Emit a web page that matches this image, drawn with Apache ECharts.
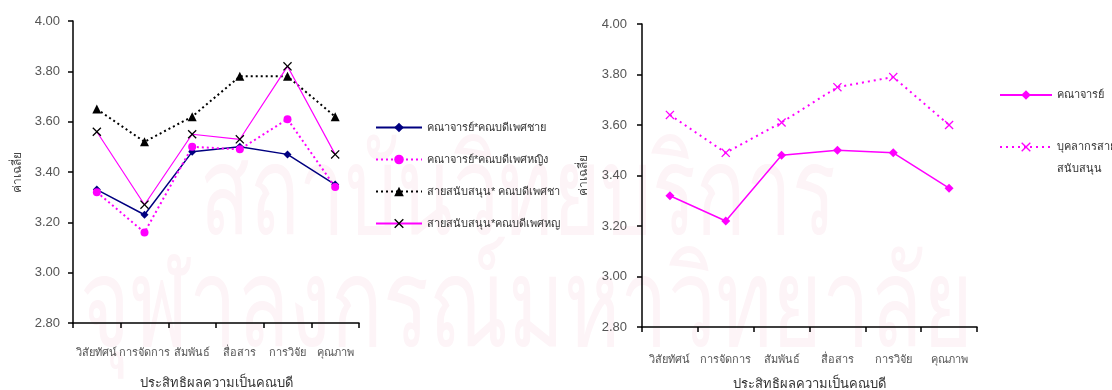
<!DOCTYPE html>
<html>
<head>
<meta charset="utf-8">
<script src="https://cdn.jsdelivr.net/npm/echarts@6/dist/echarts.min.js"></script>
<style>
  html, body { margin: 0; padding: 0; background: #fff; }
  #chart { width: 1112px; height: 390px; }
</style>
</head>
<body>
<div id="chart"></div>
<script>
// Categories (dimensions of dean effectiveness)
const categories = ['วิสัยทัศน์', 'การจัดการ', 'สัมพันธ์', 'สื่อสาร', 'การวิจัย', 'คุณภาพ'];
const yTicks = [2.8, 3.0, 3.2, 3.4, 3.6, 3.8, 4.0];

// Left chart: staff group x dean gender
const facultyMaleDean   = [3.33, 3.23, 3.48, 3.50, 3.47, 3.35];
const facultyFemaleDean = [3.32, 3.16, 3.50, 3.49, 3.61, 3.34];
const supportMaleDean   = [3.65, 3.52, 3.62, 3.78, 3.78, 3.62];
const supportFemaleDean = [3.56, 3.27, 3.55, 3.53, 3.82, 3.47];

// Right chart: staff group only
const facultyAll = [3.32, 3.22, 3.48, 3.50, 3.49, 3.35];
const supportAll = [3.64, 3.49, 3.61, 3.75, 3.79, 3.60];

// Series names and the legend text shown for them (legend box clips long names)
const names = {
  fm: 'คณาจารย์*คณบดีเพศชาย',
  ff: 'คณาจารย์*คณบดีเพศหญิง',
  sm: 'สายสนับสนุน* คณบดีเพศชาย',
  sf: 'สายสนับสนุน*คณบดีเพศหญิง',
  fa: 'คณาจารย์',
  sa: 'บุคลากรสายสนับสนุน'
};
const legendText = {
  [names.sm]: 'สายสนับสนุน* คณบดีเพศชา',
  [names.sf]: 'สายสนับสนุน*คณบดีเพศหญ',
  // leading blank line keeps the icon level with the first text line
  [names.sa]: '\nบุคลากรสาย\nสนับสนุน'
};

const FONT = '"Liberation Sans", Arial, "Noto Sans", sans-serif';
const NAVY = '#000080';
const MAG = '#ff00ff';
const CROSS = 'path://M0,1L1,0L5,4L9,0L10,1L6,5L10,9L9,10L5,6L1,10L0,9L4,5Z';

const chart = echarts.init(document.getElementById('chart'), null, { renderer: 'canvas' });

function yAxis(gridIndex, gap, margin) {
  return {
    gridIndex, type: 'value', min: yTicks[0], max: yTicks[yTicks.length - 1], interval: 0.2,
    name: 'ค่าเฉลี่ย', nameLocation: 'middle', nameGap: gap, nameRotate: 90,
    nameTextStyle: { fontFamily: FONT, fontSize: 12, color: '#444' },
    axisLine: { show: true, lineStyle: { color: '#000', width: 1.5 } },
    axisTick: { show: true, length: 5, lineStyle: { color: '#000', width: 1.5 } },
    axisLabel: { fontFamily: FONT, fontSize: 13, color: '#555', margin,
                 formatter: v => v.toFixed(2) },
    splitLine: { show: false }
  };
}
function xAxis(gridIndex, margin, gap) {
  return {
    gridIndex, type: 'category', data: categories, boundaryGap: true,
    name: 'ประสิทธิผลความเป็นคณบดี', nameLocation: 'middle', nameGap: gap,
    nameTextStyle: { fontFamily: FONT, fontSize: 13, color: '#333' },
    axisLine: { show: true, lineStyle: { color: '#000', width: 1.5 } },
    axisTick: { show: true, alignWithLabel: false, length: 5, lineStyle: { color: '#000', width: 1.5 } },
    axisLabel: { fontFamily: FONT, fontSize: 11, color: '#555', margin, interval: 0 }
  };
}

const legendBase = {
  orient: 'vertical', padding: 0, itemHeight: 12,
  formatter: n => legendText[n] || n
};

const option = {
  animation: false,
  backgroundColor: '#fff',
  graphic: [
    // faint institutional watermark behind the plots
    { type: 'text', x: 200, y: 262, scaleX: 0.85, scaleY: 1.3, z: -10, silent: true,
      style: { text: 'สถาบันวิทยบริการ', x: 0, y: 0, verticalAlign: 'bottom', fontSize: 96,
               fontFamily: FONT, fill: '#fdf4f7' } },
    { type: 'text', x: 80, y: 374, scaleX: 0.89, scaleY: 1.3, z: -10, silent: true,
      style: { text: 'จุฬาลงกรณ์มหาวิทยาลัย', x: 0, y: 0, verticalAlign: 'bottom', fontSize: 96,
               fontFamily: FONT, fill: '#fdf4f7' } }
  ],
  grid: [
    { left: 73, right: 753, top: 21, bottom: 67, containLabel: false, outerBoundsMode: 'none' },
    { left: 642, right: 135, top: 24, bottom: 63, containLabel: false, outerBoundsMode: 'none' }
  ],
  xAxis: [xAxis(0, 24, 54), xAxis(1, 27, 51)],
  yAxis: [yAxis(0, 49, 13), yAxis(1, 52, 15)],
  legend: [
    Object.assign({}, legendBase, {
      left: 375, top: 122, itemWidth: 46, itemGap: 21,
      data: [names.fm, names.ff, names.sm, names.sf],
      textStyle: { fontFamily: FONT, fontSize: 11, color: '#333' }
    }),
    Object.assign({}, legendBase, {
      left: 999, top: 84, itemWidth: 52,
      data: [names.fa],
      textStyle: { fontFamily: FONT, fontSize: 11, color: '#333', lineHeight: 22 }
    }),
    Object.assign({}, legendBase, {
      left: 999, top: 114, itemWidth: 52,
      data: [names.sa],
      textStyle: { fontFamily: FONT, fontSize: 11, color: '#333', lineHeight: 22 }
    })
  ],
  series: [
    { name: names.fm, type: 'line', xAxisIndex: 0, yAxisIndex: 0, data: facultyMaleDean,
      symbol: 'diamond', symbolSize: 8, itemStyle: { color: NAVY },
      lineStyle: { color: NAVY, width: 1.5 } },
    { name: names.ff, type: 'line', xAxisIndex: 0, yAxisIndex: 0, data: facultyFemaleDean,
      symbol: 'circle', symbolSize: 8, itemStyle: { color: MAG },
      lineStyle: { color: MAG, width: 2, type: [2, 3] } },
    { name: names.sm, type: 'line', xAxisIndex: 0, yAxisIndex: 0, data: supportMaleDean,
      symbol: 'triangle', symbolSize: 9, itemStyle: { color: '#000' },
      lineStyle: { color: '#000', width: 2, type: [2, 3] } },
    { name: names.sf, type: 'line', xAxisIndex: 0, yAxisIndex: 0, data: supportFemaleDean,
      symbol: CROSS, symbolSize: 9, itemStyle: { color: '#000' },
      lineStyle: { color: MAG, width: 1.2 } },
    { name: names.fa, type: 'line', xAxisIndex: 1, yAxisIndex: 1, data: facultyAll,
      symbol: 'diamond', symbolSize: 9, itemStyle: { color: MAG },
      lineStyle: { color: MAG, width: 1.5 } },
    { name: names.sa, type: 'line', xAxisIndex: 1, yAxisIndex: 1, data: supportAll,
      symbol: CROSS, symbolSize: 9, itemStyle: { color: MAG },
      lineStyle: { color: MAG, width: 2, type: [2, 4] } }
  ]
};

chart.setOption(option);
</script>
</body>
</html>
